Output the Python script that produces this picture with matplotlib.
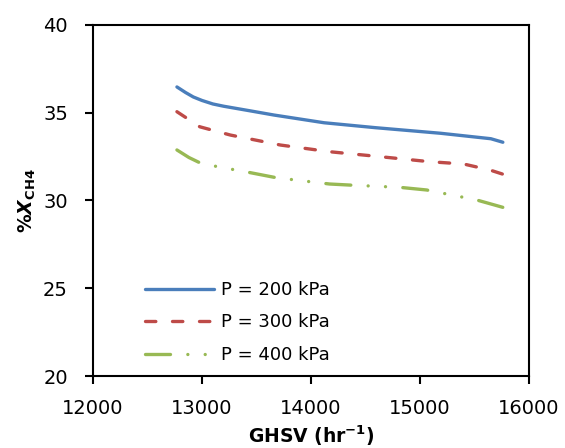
import matplotlib
matplotlib.use("Agg")
import matplotlib.pyplot as plt

# Data
ghsv_200 = [12770, 12850, 12920, 13000, 13100, 13200, 13450, 13660, 14120, 14590, 15190, 15650, 15760]
xch4_200 = [36.47, 36.15, 35.9, 35.7, 35.5, 35.37, 35.1, 34.87, 34.43, 34.15, 33.83, 33.52, 33.32]

ghsv_300 = [12770, 12980, 13260, 13720, 14170, 14630, 15090, 15400, 15640, 15760]
xch4_300 = [35.06, 34.2, 33.73, 33.16, 32.78, 32.5, 32.21, 32.08, 31.74, 31.5]

ghsv_400 = [12770, 12880, 12980, 13140, 13440, 13680, 14170, 14385, 14815, 15060, 15520, 15760]
xch4_400 = [32.88, 32.45, 32.15, 31.93, 31.59, 31.3, 30.94, 30.87, 30.75, 30.6, 30.03, 29.61]

labels = ["P = 200 kPa", "P = 300 kPa", "P = 400 kPa"]
xticks = [12000, 13000, 14000, 15000, 16000]
yticks = [20, 25, 30, 35, 40]

plt.rcParams['font.family'] = ['DejaVu Sans']
plt.rcParams['mathtext.fontset'] = 'dejavusans'

fig = plt.figure(figsize=(5.65, 4.48), dpi=100)
ax = fig.add_axes([93/565, 1-376/448, (529-93)/565, (376-25)/448])

lw = 2.4
ax.plot(ghsv_200, xch4_200, color='#4A7EBB', lw=lw, solid_capstyle='round',
        solid_joinstyle='round', label=labels[0])
ax.plot(ghsv_300, xch4_300, color='#BE4B48', lw=lw, dash_capstyle='round',
        linestyle=(0, (3.1, 5.0)), label=labels[1])
ax.plot(ghsv_400, xch4_400, color='#98B954', lw=lw, dash_capstyle='round',
        linestyle=(0, (7.5, 5.2, 0.01, 5.2, 0.01, 5.2)), label=labels[2])

ax.set_xlim(12000, 16000)
ax.set_ylim(20, 40)
ax.set_xticks(xticks)
ax.set_yticks(yticks)
ax.tick_params(axis='both', which='major', direction='out', length=6, width=1.5,
               labelsize=14, color='black')
ax.tick_params(axis='x', pad=10.5)
ax.tick_params(axis='y', pad=12)
for s in ax.spines.values():
    s.set_linewidth(1.5)
    s.set_color('black')

ax.set_xlabel(r"GHSV (hr$^{\mathbf{-1}}$)", fontsize=13.5, fontweight='bold', labelpad=4)
ax.set_ylabel(r"%$\boldsymbol{X}_{\mathbf{CH4}}$", fontsize=13.5, fontweight='bold', labelpad=4)

leg = ax.legend(loc='upper left', bbox_to_anchor=(52/436, 95/351), frameon=False,
                fontsize=13, handlelength=3.8, handletextpad=0.4, labelspacing=0.8,
                borderaxespad=0, borderpad=0)

fig.savefig("out.png", dpi=100)
